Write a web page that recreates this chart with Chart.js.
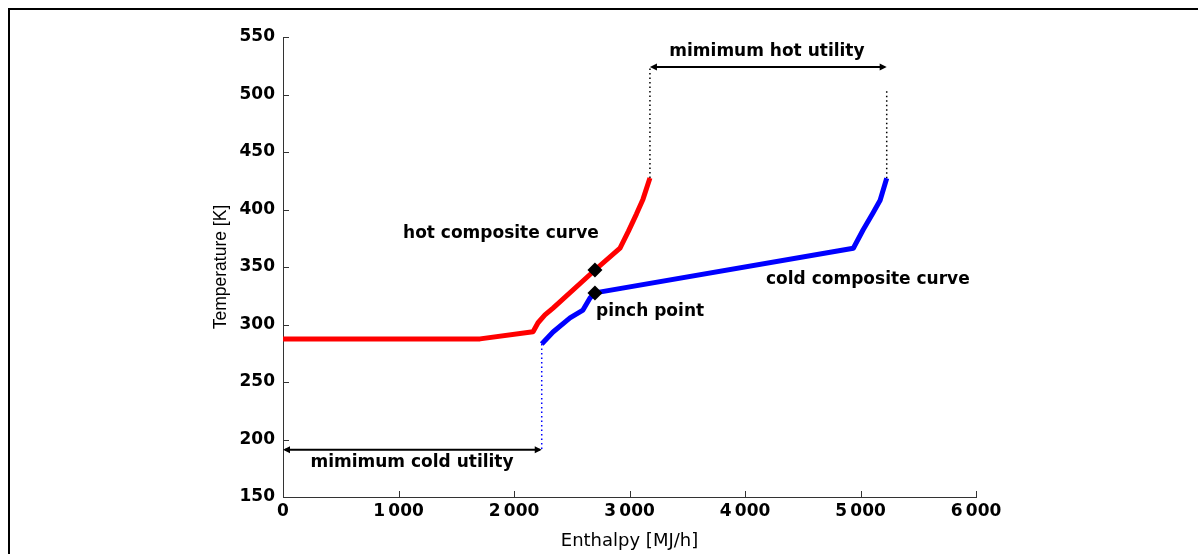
<!DOCTYPE html>
<html>
<head>
<meta charset="utf-8">
<script src="https://cdn.jsdelivr.net/npm/chart.js@4/dist/chart.umd.min.js"></script>
<style>
  html, body { margin: 0; padding: 0; background: #fff; }
  #wrap { width: 1198px; height: 554px; position: relative; }
</style>
</head>
<body>
<div id="wrap"><canvas id="c" width="1198" height="554"></canvas></div>
<script>
// ---- data ----
const hotH  = [0, 1706, 2165, 2208, 2268, 2338, 2701, 2918, 2990, 3060, 3117, 3177];
const hotT  = [287.5, 287.5, 293.7, 301.5, 308.3, 314.3, 347.4, 366.5, 381, 396, 409, 427.4];
const coldH = [2240, 2338, 2485, 2597, 2658, 2701, 4938, 5022, 5108, 5170, 5227];
const coldT = [283, 293.5, 305.7, 312.6, 323, 327.5, 366.3, 382.2, 397, 408, 427.1];
const pinchH = [2701, 2701];
const pinchT = [347.5, 327.5];
const hotUtilH = [3177, 5227];     // minimum hot utility span
const hotUtilT = 524;
const coldUtilH = [0, 2240];       // minimum cold utility span
const coldUtilT = 191;
const hotGuideT = [427.4, 524];
const coldGuideT = [427.1, 504];
const coldStartGuideT = [283, 191];
const xTicks = [0, 1000, 2000, 3000, 4000, 5000, 6000];
const xTickLabels = ['0', '1\u2009000', '2\u2009000', '3\u2009000', '4\u2009000', '5\u2009000', '6\u2009000'];
const yTicks = [150, 200, 250, 300, 350, 400, 450, 500, 550];
const noteTexts = ['hot composite curve', 'pinch point', 'cold composite curve', 'mimimum cold utility', 'mimimum hot utility'];
const noteH = [1887, 2710, 4182, 1117, 4190];
const noteT = [378.7, 310.9, 338.7, 179.6, 537];
const noteAlign = ['center', 'left', 'left', 'center', 'center'];

const pts = (xs, ys) => xs.map((x, i) => ({x, y: ys[i]}));
const BOLD = 'bold 17px "DejaVu Sans", sans-serif';

const frame = {
  id: 'frame',
  afterDraw(chart) {
    const ctx = chart.ctx;
    ctx.save();
    ctx.strokeStyle = '#000';
    ctx.lineWidth = 2;
    ctx.beginPath();
    ctx.moveTo(9, 554); ctx.lineTo(9, 9); ctx.lineTo(1198, 9);
    ctx.stroke();
    ctx.restore();
  }
};

const inwardTicks = {
  id: 'inwardTicks',
  afterDraw(chart) {
    const {ctx, scales: {x, y}} = chart;
    ctx.save();
    ctx.strokeStyle = '#333';
    ctx.lineWidth = 1;
    ctx.beginPath();
    xTicks.forEach(v => { const px = Math.round(x.getPixelForValue(v)) + 0.5; ctx.moveTo(px, y.bottom); ctx.lineTo(px, y.bottom - 6); });
    yTicks.forEach(v => { const py = Math.round(y.getPixelForValue(v)) + 0.5; ctx.moveTo(x.left, py); ctx.lineTo(x.left + 6, py); });
    ctx.stroke();
    ctx.restore();
  }
};

function arrow(ctx, x1, x2, yy) {
  ctx.beginPath();
  ctx.moveTo(x1 + 2, yy); ctx.lineTo(x2 - 2, yy); ctx.stroke();
  const h = 7, w = 3.5;
  ctx.beginPath(); ctx.moveTo(x1, yy); ctx.lineTo(x1 + h, yy - w); ctx.lineTo(x1 + h, yy + w); ctx.closePath(); ctx.fill();
  ctx.beginPath(); ctx.moveTo(x2, yy); ctx.lineTo(x2 - h, yy - w); ctx.lineTo(x2 - h, yy + w); ctx.closePath(); ctx.fill();
}

const notes = {
  id: 'notes',
  afterDatasetsDraw(chart) {
    const {ctx, scales: {x, y}} = chart;
    ctx.save();
    ctx.strokeStyle = '#000'; ctx.fillStyle = '#000'; ctx.lineWidth = 2;
    arrow(ctx, x.getPixelForValue(hotUtilH[0]), x.getPixelForValue(hotUtilH[1]), y.getPixelForValue(hotUtilT));
    arrow(ctx, x.getPixelForValue(coldUtilH[0]), x.getPixelForValue(coldUtilH[1]), y.getPixelForValue(coldUtilT));
    ctx.font = BOLD;
    ctx.textBaseline = 'middle';
    noteTexts.forEach((t, i) => {
      ctx.textAlign = noteAlign[i];
      ctx.fillText(t, x.getPixelForValue(noteH[i]), y.getPixelForValue(noteT[i]));
    });
    ctx.restore();
  }
};

new Chart(document.getElementById('c'), {
  type: 'scatter',
  data: {
    datasets: [
      { data: pts(pinchH, pinchT), order: 0, showLine: false, pointStyle: 'rectRot', pointRadius: 7.5, backgroundColor: '#000', borderColor: '#000', borderWidth: 0 },
      { data: pts(hotH, hotT), order: 1, showLine: true, borderColor: '#ff0000', borderWidth: 5, pointRadius: 0, borderJoinStyle: 'round', borderCapStyle: 'butt' },
      { data: pts(coldH, coldT), order: 2, showLine: true, borderColor: '#0000ff', borderWidth: 5, pointRadius: 0, borderJoinStyle: 'round', borderCapStyle: 'butt' },
      { data: pts([hotUtilH[0], hotUtilH[0]], hotGuideT), order: 3, showLine: true, borderColor: '#000', borderWidth: 1.5, borderDash: [1.5, 3], pointRadius: 0 },
      { data: pts([hotUtilH[1], hotUtilH[1]], coldGuideT), order: 4, showLine: true, borderColor: '#000', borderWidth: 1.5, borderDash: [1.5, 3], pointRadius: 0 },
      { data: pts([coldUtilH[1], coldUtilH[1]], coldStartGuideT), order: 5, showLine: true, borderColor: '#0000ff', borderWidth: 1.5, borderDash: [1.5, 3], pointRadius: 0 }
    ]
  },
  options: {
    responsive: false,
    animation: false,
    events: [],
    layout: { padding: { left: 211, top: 37, right: 222, bottom: 2 } },
    plugins: { legend: { display: false }, tooltip: { enabled: false } },
    scales: {
      x: {
        type: 'linear', min: 0, max: 6000,
        afterBuildTicks: s => { s.ticks = xTicks.map(v => ({value: v})); },
        afterFit: s => { s.height = 55; },
        ticks: { color: '#000', padding: 4, font: { family: '"DejaVu Sans", sans-serif', size: 17, weight: 'bold' }, maxRotation: 0,
                 callback: (v) => xTickLabels[xTicks.indexOf(v)] },
        grid: { display: false, drawTicks: false },
        border: { display: true, color: '#333', width: 1 },
        title: { display: true, text: 'Enthalpy [MJ/h]', color: '#000', padding: 0, font: { family: '"DejaVu Sans", sans-serif', size: 18 } }
      },
      y: {
        type: 'linear', min: 150, max: 550,
        afterBuildTicks: s => { s.ticks = yTicks.map(v => ({value: v})); },
        afterFit: s => { s.width = 72; },
        ticks: { color: '#000', padding: 8, font: { family: '"DejaVu Sans", sans-serif', size: 17, weight: 'bold' } },
        grid: { display: false, drawTicks: false },
        border: { display: true, color: '#333', width: 1 },
        title: { display: true, text: 'Temperature [K]', color: '#000', padding: 0, font: { family: '"Liberation Sans", Arial, sans-serif', size: 17.5 } }
      }
    }
  },
  plugins: [frame, inwardTicks, notes]
});
</script>
</body>
</html>
